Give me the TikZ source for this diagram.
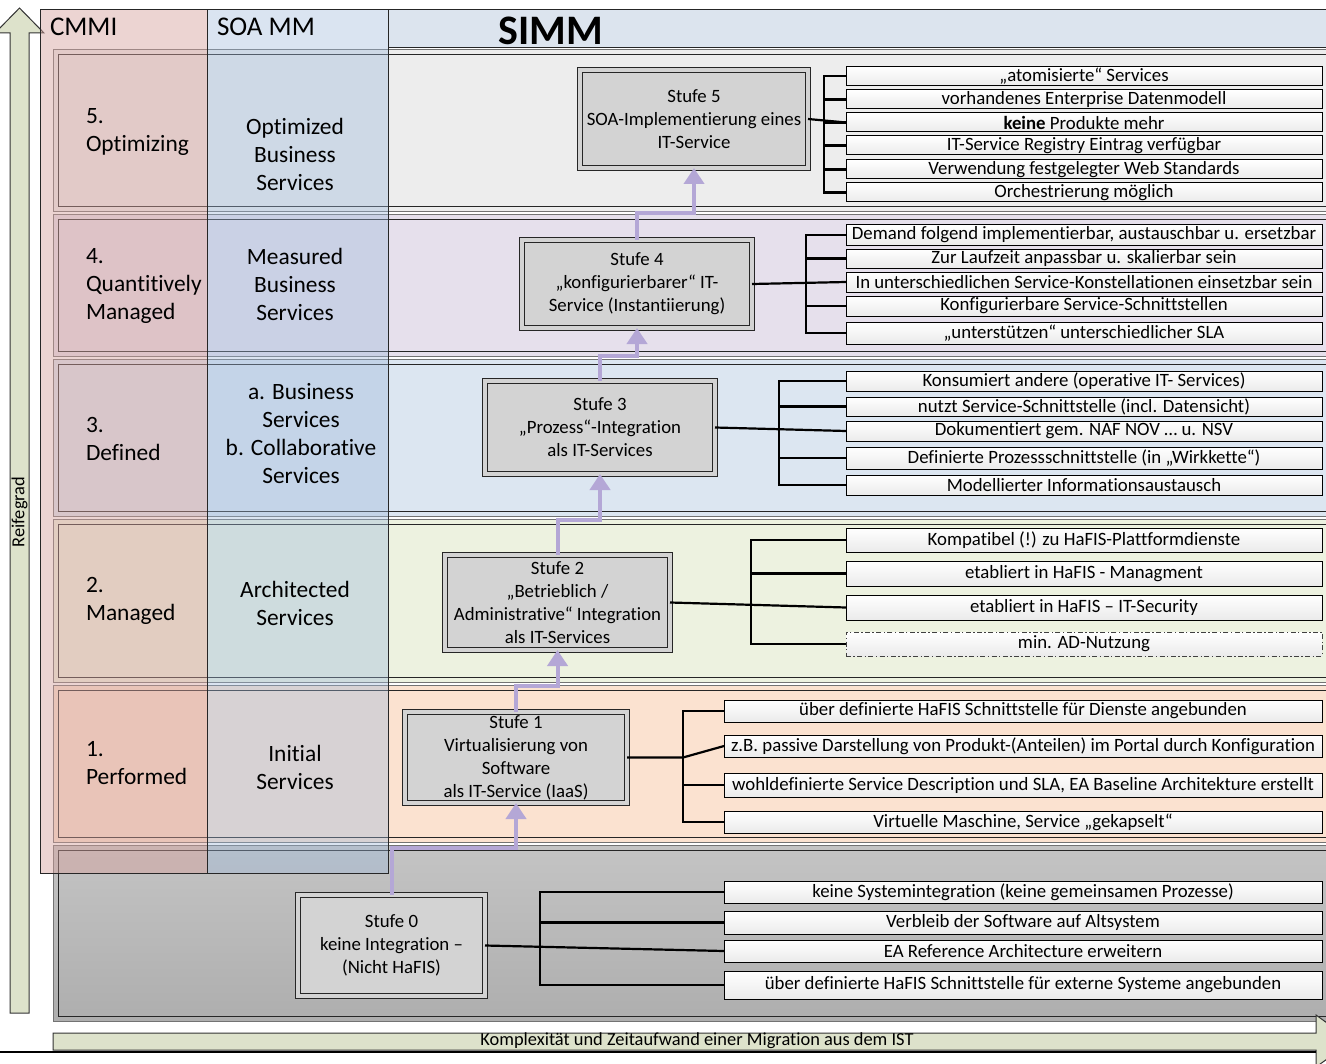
\documentclass[tikz,border=0pt]{standalone}
\usepackage{fontspec}
\setmainfont{Carlito}[Ligatures=NoCommon]
\usetikzlibrary{arrows.meta}
\definecolor{reif}{HTML}{DDE2CB}
\definecolor{rfive}{HTML}{EDEDED}
\definecolor{rfour}{HTML}{E6E0EC}
\definecolor{rthree}{HTML}{DCE6F1}
\definecolor{rtwo}{HTML}{EDF2E0}
\definecolor{rone}{HTML}{FBE2D0}
\definecolor{rzeroa}{HTML}{C4C4C4}
\definecolor{rzerob}{HTML}{AEAEAE}
\definecolor{cmmicol}{HTML}{D5A09C}
\definecolor{soacol}{HTML}{9DB9DB}
\definecolor{simmhead}{HTML}{DCE4EE}
\definecolor{boxgray}{HTML}{D3D3D3}
\definecolor{purp}{HTML}{B4A7D6}
\newcommand\fsbox{\fontsize{9.4}{11.5}\selectfont}
\newcommand\fslab{\fontsize{11.7}{14}\selectfont}
\newcommand\fshead{\fontsize{13.5}{16}\selectfont}
\newcommand\fssimm{\fontsize{21}{24}\selectfont\bfseries}
\newcommand\fssmall{\fontsize{9.2}{11}\selectfont}
\begin{document}
\begin{tikzpicture}[x=0.5pt,y=-0.5pt,
  every node/.style={inner sep=0pt, outer sep=0pt},
  stufe/.style={draw=black!85, line width=0.5pt, double=boxgray, double distance=2pt, fill=boxgray, align=center, font=\fsbox},
  item/.style={draw=black, line width=0.5pt, top color=white, bottom color=black!8, anchor=west, font=\fsbox},
  itemA/.style={item, minimum width=238pt},
  itemB/.style={item, minimum width=299pt},
  conn/.style={line width=1.1pt, black},
  parrow/.style={line width=2pt, color=purp, -{Triangle[width=10pt,length=8pt]}},
  lab/.style={font=\fslab, align=left, anchor=west},
  soalab/.style={font=\fslab, align=center}]
\useasboundingbox (0,0) rectangle (1326,1064);
% Reifegrad arrow
\draw[fill=reif, draw=black!80, line width=0.5pt] (10,1013) -- (10,33) -- (-5,33) -- (19.5,8) -- (44,33) -- (29,33) -- (29,1013) -- cycle;
\node[rotate=90, font=\fssmall] (reifegrad) at (19.5,512) {Reifegrad};
% rows
\foreach \t/\b/\c in {50/212/rfive, 215/356/rfour, 359/516/rthree, 519/682/rtwo, 685/842/rone} {
  \fill[\c] (53,\t) rectangle (1345,\b);
  \draw[black!55, line width=0.5pt] (53,\t) rectangle (1345,\b);
  \draw[black!85, line width=0.5pt] (58,\t+5) rectangle (1340,\b-5);
}
\shade[top color=rzeroa, bottom color=rzerob] (53,845) rectangle (1345,1021);
\draw[black!55, line width=0.5pt] (53,845) rectangle (1345,1021);
\draw[black!85, line width=0.5pt] (58,850) rectangle (1340,1016);
% columns
\fill[cmmicol, fill opacity=0.45] (40,10) rectangle (207,873);
\fill[soacol, fill opacity=0.38] (207,10) rectangle (388,873);
\draw[black!85, line width=0.5pt] (40,10) rectangle (388,873);
\draw[black!85, line width=0.5pt] (207,10) -- (207,873);
\draw[black!85, line width=0.5pt, fill=simmhead] (388,10) rectangle (1345,48);
% headers
\node[anchor=west, font=\fshead] (hcmmi) at (50,27) {CMMI};
\node[anchor=west, font=\fshead] (hsoa) at (217,27) {SOA MM};
\node[font=\fssimm] (hsimm) at (551,31) {SIMM};
% row labels
\node[lab] (c5) at (86,132) {5.\\Optimizing};
\node[lab] (c4) at (86,286) {4.\\Quantitively\\Managed};
\node[lab] (c3) at (86,438.5) {3.\\Defined};
\node[lab] (c2) at (86,601) {2.\\Managed};
\node[lab] (c1) at (86,763.5) {1.\\Performed};
\node[soalab] (m5) at (295,154) {Optimized\\Business\\Services};
\node[soalab] (m4) at (295,284) {Measured\\Business\\Services};
\node[soalab] (m3) at (301,433.5) {a. Business\\Services\\b. Collaborative\\Services};
\node[soalab] (m2) at (295,603) {Architected\\Services};
\node[soalab] (m1) at (295,767) {Initial\\Services};
% Stufe boxes
\node[stufe, minimum width=114pt, minimum height=49pt] (s5) at (694,119) {Stufe 5\\SOA-Implementierung eines\\IT-Service};
\node[stufe, minimum width=115pt, minimum height=44pt] (s4) at (637,284) {Stufe 4\\„konfigurierbarer“ IT-\\Service (Instantiierung)};
\node[stufe, minimum width=115pt, minimum height=46.5pt] (s3) at (600,427.5) {Stufe 3\\„Prozess“-Integration\\als IT-Services};
\node[stufe, minimum width=112.5pt, minimum height=47.5pt] (s2) at (557.5,602.5) {Stufe 2\\„Betrieblich /\\Administrative“ Integration\\als IT-Services};
\node[stufe, minimum width=111pt, minimum height=45.5pt] (s1) at (516,757.5) {Stufe 1\\Virtualisierung von\\Software\\als IT-Service (IaaS)};
\node[stufe, minimum width=93.5pt, minimum height=50.5pt] (s0) at (391.5,945.5) {Stufe 0\\keine Integration –\\(Nicht HaFIS)};
% purple step arrows
\coordinate (h01) at (0,848);
\coordinate (h12) at (0,686);
\coordinate (h23) at (0,520);
\coordinate (h34) at (0,356);
\coordinate (h45) at (0,213);
\draw[parrow] (s0.north) -- (s0.north |- h01) -| (s1.south);
\draw[parrow] (s1.north) -- (s1.north |- h12) -| (s2.south);
\draw[parrow] (s2.north) -- (s2.north |- h23) -| (s3.south);
\draw[parrow] (s3.north) -- (s3.north |- h34) -| (s4.south);
\draw[parrow] (s4.north) -- (s4.north |- h45) -| (s5.south);
% row 5 list
\node[itemA, minimum height=9.5pt] (l51) at (846,76) {„atomisierte“ Services};
\node[itemA, minimum height=9.5pt] (l52) at (846,99.5) {vorhandenes Enterprise Datenmodell};
\node[itemA, minimum height=9.5pt] (l53) at (846,122.5) {\textbf{keine} Produkte mehr};
\node[itemA, minimum height=9.5pt] (l54) at (846,145.5) {IT-Service Registry Eintrag verfügbar};
\node[itemA, minimum height=9.5pt] (l55) at (846,169.5) {Verwendung festgelegter Web Standards};
\node[itemA, minimum height=9.5pt] (l56) at (846,192.5) {Orchestrierung möglich};
% row 4 list
\node[itemA, minimum height=10pt] (l41) at (846,235) {Demand folgend implementierbar, austauschbar u. ersetzbar};
\node[itemA, minimum height=9.5pt] (l42) at (846,258.5) {Zur Laufzeit anpassbar u. skalierbar sein};
\node[itemA, minimum height=10pt] (l43) at (846,282) {In unterschiedlichen Service-Konstellationen einsetzbar sein};
\node[itemA, minimum height=10pt] (l44) at (846,306) {Konfigurierbare Service-Schnittstellen};
\node[itemA, minimum height=11pt] (l45) at (846,333) {„unterstützen“ unterschiedlicher SLA};
% row 3 list
\node[itemA, minimum height=10pt] (l31) at (846,381) {Konsumiert andere (operative IT- Services)};
\node[itemA, minimum height=9.5pt] (l32) at (846,406.5) {nutzt Service-Schnittstelle (incl. Datensicht)};
\node[itemA, minimum height=10pt] (l33) at (846,431) {Dokumentiert gem. NAF NOV … u. NSV};
\node[itemA, minimum height=11pt] (l34) at (846,458) {Definierte Prozessschnittstelle (in „Wirkkette“)};
\node[itemA, minimum height=10pt] (l35) at (846,485) {Modellierter Informationsaustausch};
% row 2 list
\node[itemA, minimum height=12pt] (l21) at (846,540) {Kompatibel (!) zu HaFIS-Plattformdienste};
\node[itemA, minimum height=12.5pt] (l22) at (846,573.5) {etabliert in HaFIS - Managment};
\node[itemA, minimum height=12.5pt] (l23) at (846,607.5) {etabliert in HaFIS – IT-Security};
\node[itemA, minimum height=12pt, draw=black!75, dash pattern=on 2.5pt off 1.2pt on 0.7pt off 1.2pt] (l24) at (846,644) {min. AD-Nutzung};
% row 1 list
\node[itemB, minimum height=11pt] (l11) at (724,711) {über definierte HaFIS Schnittstelle für Dienste angebunden};
\node[itemB, minimum height=11pt] (l12) at (724,746) {z.B. passive Darstellung von Produkt-(Anteilen) im Portal durch Konfiguration};
\node[itemB, minimum height=12pt] (l13) at (724,785) {wohldefinierte Service Description und SLA, EA Baseline Architekture erstellt};
\node[itemB, minimum height=11pt] (l14) at (724,822) {Virtuelle Maschine, Service „gekapselt“};
% row 0 list
\node[itemB, minimum height=11pt] (l01) at (724,892) {keine Systemintegration (keine gemeinsamen Prozesse)};
\node[itemB, minimum height=11.5pt] (l02) at (724,922.5) {Verbleib der Software auf Altsystem};
\node[itemB, minimum height=11pt] (l03) at (724,951) {EA Reference Architecture erweitern};
\node[itemB, minimum height=14pt] (l04) at (724,985) {über definierte HaFIS Schnittstelle für externe Systeme angebunden};
% brackets
\coordinate (b5) at (824,0);
\coordinate (b4) at (806,0);
\coordinate (b3) at (779,0);
\coordinate (b2) at (751,0);
\coordinate (b1) at (683,0);
\coordinate (b0) at (540,0);
\draw[conn] (l51.west) -- (l51.west -| b5) -- (l56.west -| b5) -- (l56.west);
\foreach \n in {l52,l53,l54,l55} \draw[conn] (\n.west -| b5) -- (\n.west);
\draw[conn] (s5.east) -- (l53.west);
\draw[conn] (l41.west) -- (l41.west -| b4) -- (l45.west -| b4) -- (l45.west);
\foreach \n in {l42,l44} \draw[conn] (\n.west -| b4) -- (\n.west);
\draw[conn] (s4.east) -- (l43.west);
\draw[conn] (l31.west) -- (l31.west -| b3) -- (l35.west -| b3) -- (l35.west);
\foreach \n in {l32,l34} \draw[conn] (\n.west -| b3) -- (\n.west);
\draw[conn] (s3.east) -- (l33.west);
\draw[conn] (l21.west) -- (l21.west -| b2) -- (l24.west -| b2) -- (l24.west);
\draw[conn] (l22.west -| b2) -- (l22.west);
\draw[conn] (s2.east) -- (l23.west);
\draw[conn] (l11.west) -- (l11.west -| b1) -- (l14.west -| b1) -- (l14.west);
\draw[conn] (l13.west -| b1) -- (l13.west);
\draw[conn] (s1.east) -- (s1.east -| b1) -- (l12.west);
\draw[conn] (l01.west) -- (l01.west -| b0) -- (l04.west -| b0) -- (l04.west);
\draw[conn] (l02.west -| b0) -- (l02.west);
\draw[conn] (s0.east) -- (l03.west);
% bottom arrow
\draw[fill=reif, draw=black!80, line width=0.5pt] (53,1033) -- (1316,1033) -- (1316,1015) -- (1352,1041) -- (1316,1067) -- (1316,1050) -- (53,1050) -- cycle;
\node[font=\fssmall] (komplex) at (697,1041) {Komplexität und Zeitaufwand einer Migration aus dem IST};
\draw[line width=1pt] (0,1051.5) -- (1316,1051.5);
\end{tikzpicture}
\end{document}
